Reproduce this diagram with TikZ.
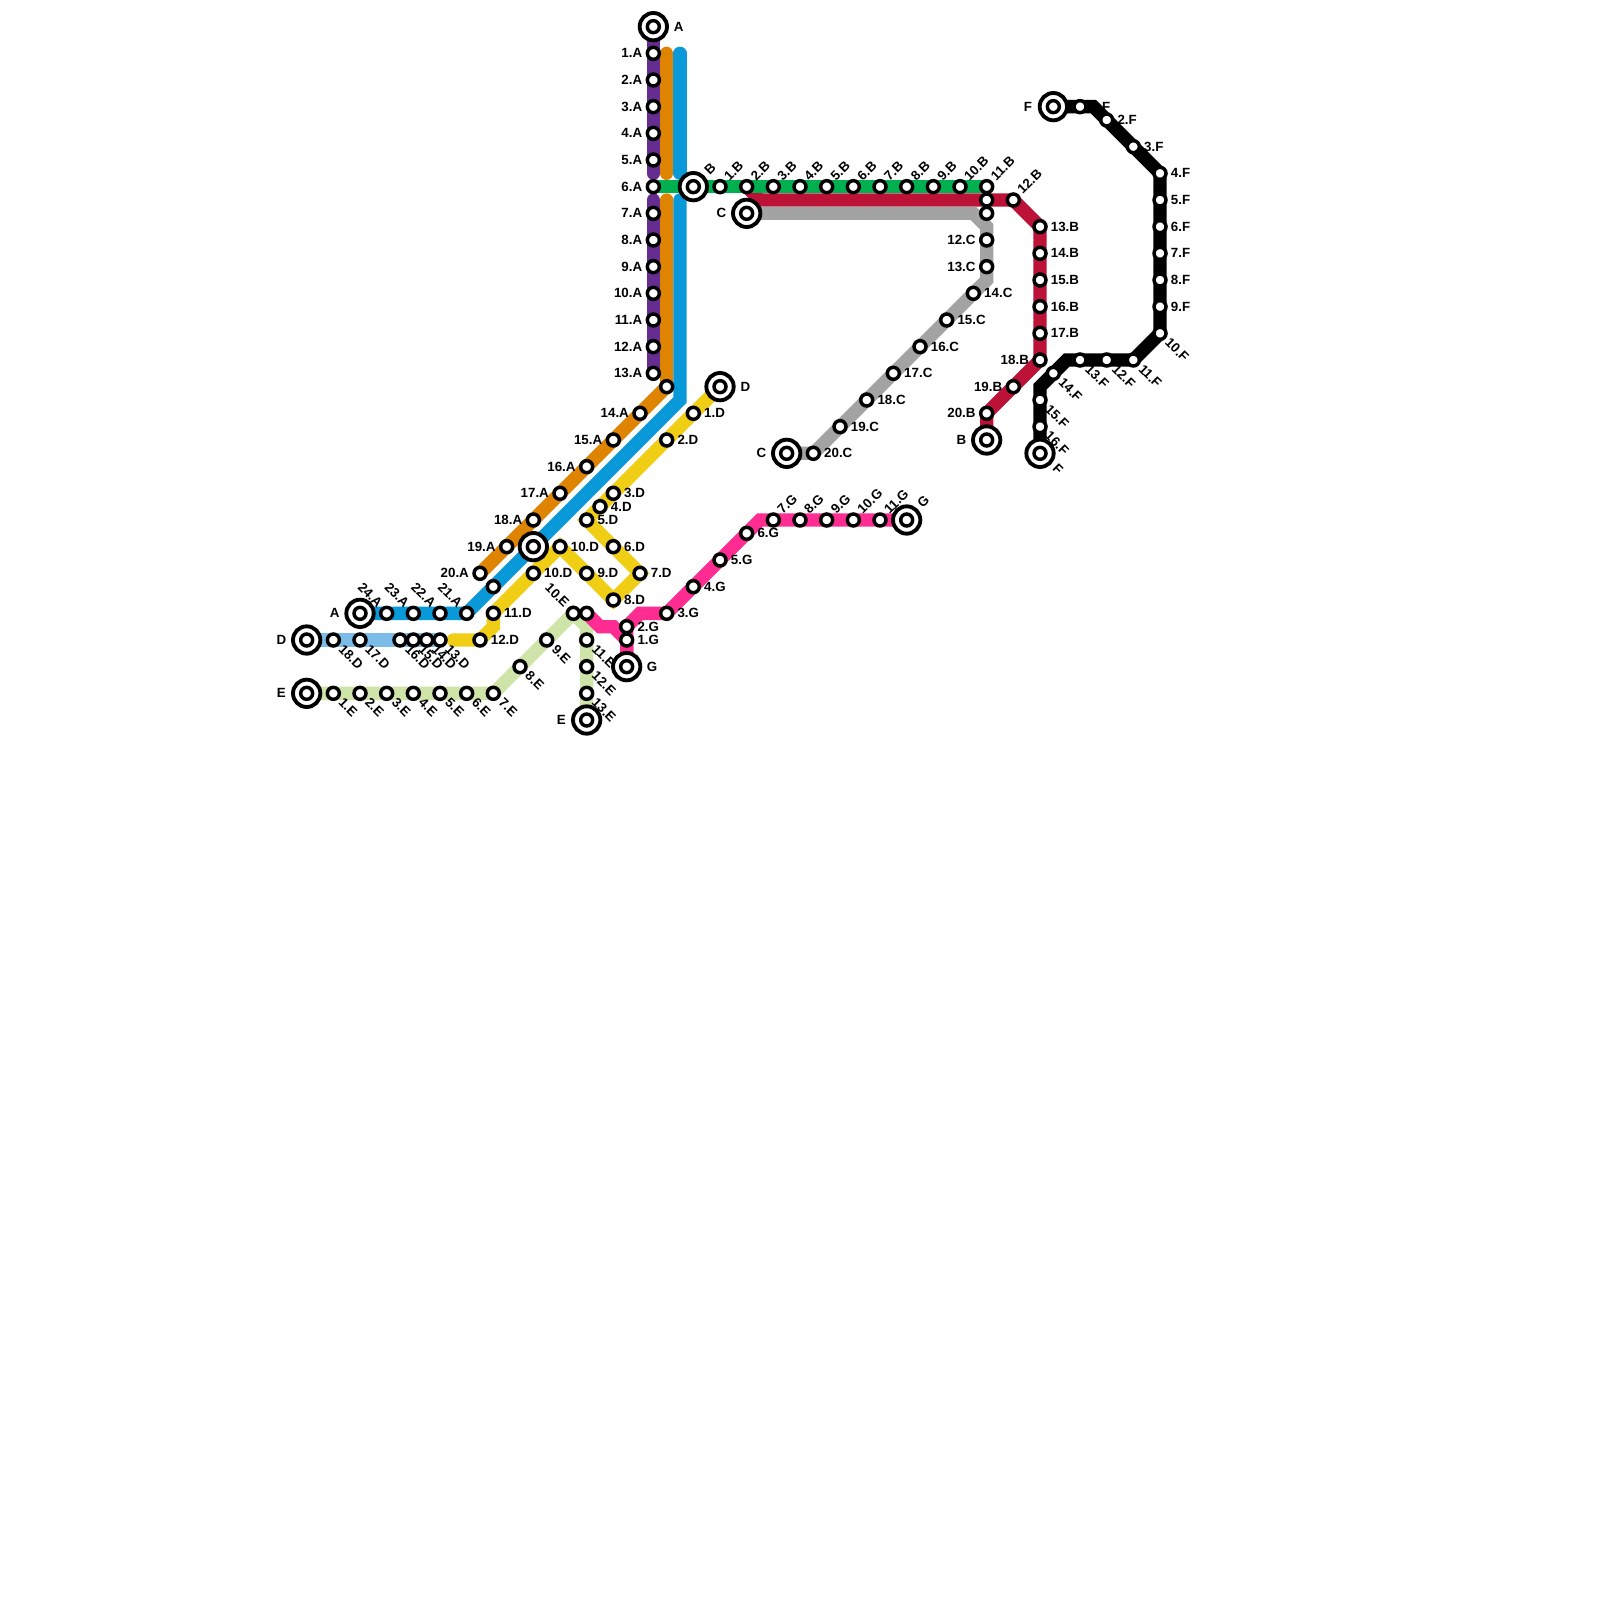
\documentclass[tikz,border=0pt]{standalone}
\usepackage{fontspec}
\setmainfont{Liberation Sans}
\pgfdeclarelayer{lines}
\pgfdeclarelayer{labels}
\pgfsetlayers{lines,labels,main}
\definecolor{cpurple}{HTML}{662D91}
\definecolor{corange}{HTML}{DE8400}
\definecolor{cblue}{HTML}{0A99D8}
\definecolor{cgreen}{HTML}{00B050}
\definecolor{ccrimson}{HTML}{BC1238}
\definecolor{cgray}{HTML}{A3A3A3}
\definecolor{cyellow}{HTML}{F0CE15}
\definecolor{clblue}{HTML}{7BBBE8}
\definecolor{clgreen}{HTML}{CFE4A9}
\definecolor{cpink}{HTML}{FF2D92}
\tikzset{
  station/.style={circle,draw=black,fill=white,line width=0.052cm,minimum size=0.18cm,inner sep=0pt},
  terminal/.style={circle,draw=black,fill=white,line width=0.058cm,minimum size=0.41cm,inner sep=0pt},
  txt/.style={font=\bfseries\fontsize{5.69pt}{6pt}\selectfont,inner sep=0pt,text=black},
  labL/.style={txt,anchor=east,shift={(-0.8,0)}},
  labR/.style={txt,anchor=west,shift={(0.78,0)}},
  labUR/.style={txt,anchor=west,shift={(0.45,-0.6)},rotate=45},
  labDR/.style={txt,anchor=west,shift={(0.55,0.5)},rotate=-45},
  labUL/.style={txt,anchor=east,shift={(-0.45,-0.6)},rotate=-45},
  tlabL/.style={txt,shift={(-1.9,0)}},
  tlabR/.style={txt,shift={(1.9,0)}},
  tlabUR/.style={txt,shift={(1.25,-1.35)},rotate=45},
  tlabDR/.style={txt,shift={(1.35,1.15)},rotate=-45},
  metro/.style={line width=0.2cm,line cap=round,line join=miter},
}
\newcommand\st[5]{%
  \node[station] (#1) at (#2,#3) {};
  \begin{pgfonlayer}{labels}\node[lab#4] (#1l) at (#2,#3) {#5};\end{pgfonlayer}}
\newcommand\bare[3]{\node[station] (#1) at (#2,#3) {};}
\newcommand\term[5]{%
  \node[terminal] (#1) at (#2,#3) {};
  \node[station] (#1i) at (#2,#3) {};
  \begin{pgfonlayer}{labels}\node[tlab#4] (#1l) at (#2,#3) {#5};\end{pgfonlayer}}
\newcommand\termbare[3]{%
  \node[terminal] (#1) at (#2,#3) {};
  \node[station] (#1i) at (#2,#3) {};}
\begin{document}
\begin{tikzpicture}[x=0.2cm,y=-0.2cm]
\begin{pgfonlayer}{lines}
\fill[white] (0,0) rectangle (120,120);
\end{pgfonlayer}
\useasboundingbox (0,0) rectangle (120,120);
% terminals
\term{TA}{49}{2}{R}{A}
\term{TAb}{27}{46}{L}{A}
\term{TB}{52}{14}{UR}{B}
\term{TBb}{74}{33}{L}{B}
\term{TC}{56}{16}{L}{C}
\term{TCb}{59}{34}{L}{C}
\term{TD}{54}{29}{R}{D}
\term{TDb}{23}{48}{L}{D}
\term{TE}{23}{52}{L}{E}
\term{TEb}{44}{54}{L}{E}
\term{TF}{79}{8}{L}{F}
\term{TFb}{78}{34}{DR}{F}
\term{TG}{47}{50}{R}{G}
\term{TGb}{68}{39}{UR}{G}
\termbare{TX}{40}{41}
% line A
\st{A1}{49}{4}{L}{1.A}
\st{A2}{49}{6}{L}{2.A}
\st{A3}{49}{8}{L}{3.A}
\st{A4}{49}{10}{L}{4.A}
\st{A5}{49}{12}{L}{5.A}
\st{A6}{49}{14}{L}{6.A}
\st{A7}{49}{16}{L}{7.A}
\st{A8}{49}{18}{L}{8.A}
\st{A9}{49}{20}{L}{9.A}
\st{A10}{49}{22}{L}{10.A}
\st{A11}{49}{24}{L}{11.A}
\st{A12}{49}{26}{L}{12.A}
\st{A13}{49}{28}{L}{13.A}
\bare{Ax}{50}{29}
\st{A14}{48}{31}{L}{14.A}
\st{A15}{46}{33}{L}{15.A}
\st{A16}{44}{35}{L}{16.A}
\st{A17}{42}{37}{L}{17.A}
\st{A18}{40}{39}{L}{18.A}
\st{A19}{38}{41}{L}{19.A}
\st{A20}{36}{43}{L}{20.A}
\bare{Ay}{37}{44}
\st{A21}{35}{46}{UL}{21.A}
\st{A22}{33}{46}{UL}{22.A}
\st{A23}{31}{46}{UL}{23.A}
\st{A24}{29}{46}{UL}{24.A}
% line B
\st{B1}{54}{14}{UR}{1.B}
\st{B2}{56}{14}{UR}{2.B}
\st{B3}{58}{14}{UR}{3.B}
\st{B4}{60}{14}{UR}{4.B}
\st{B5}{62}{14}{UR}{5.B}
\st{B6}{64}{14}{UR}{6.B}
\st{B7}{66}{14}{UR}{7.B}
\st{B8}{68}{14}{UR}{8.B}
\st{B9}{70}{14}{UR}{9.B}
\st{B10}{72}{14}{UR}{10.B}
\st{B11}{74}{14}{UR}{11.B}
\bare{Bx}{74}{15}
\st{B12}{76}{15}{UR}{12.B}
\st{B13}{78}{17}{R}{13.B}
\st{B14}{78}{19}{R}{14.B}
\st{B15}{78}{21}{R}{15.B}
\st{B16}{78}{23}{R}{16.B}
\st{B17}{78}{25}{R}{17.B}
\st{B18}{78}{27}{L}{18.B}
\st{B19}{76}{29}{L}{19.B}
\st{B20}{74}{31}{L}{20.B}
% line C
\bare{Cx}{74}{16}
\st{C12}{74}{18}{L}{12.C}
\st{C13}{74}{20}{L}{13.C}
\st{C14}{73}{22}{R}{14.C}
\st{C15}{71}{24}{R}{15.C}
\st{C16}{69}{26}{R}{16.C}
\st{C17}{67}{28}{R}{17.C}
\st{C18}{65}{30}{R}{18.C}
\st{C19}{63}{32}{R}{19.C}
\st{C20}{61}{34}{R}{20.C}
% line D
\st{D1}{52}{31}{R}{1.D}
\st{D2}{50}{33}{R}{2.D}
\st{D3}{46}{37}{R}{3.D}
\st{D4}{45}{38}{R}{4.D}
\st{D5}{44}{39}{R}{5.D}
\st{D6}{46}{41}{R}{6.D}
\st{D7}{48}{43}{R}{7.D}
\st{D8}{46}{45}{R}{8.D}
\st{D9}{44}{43}{R}{9.D}
\st{D10}{42}{41}{R}{10.D}
\st{D10b}{40}{43}{R}{10.D}
\st{D11}{37}{46}{R}{11.D}
\st{D12}{36}{48}{R}{12.D}
\st{D13}{33}{48}{DR}{13.D}
\st{D14}{32}{48}{DR}{14.D}
\st{D15}{31}{48}{DR}{15.D}
\st{D16}{30}{48}{DR}{16.D}
\st{D17}{27}{48}{DR}{17.D}
\st{D18}{25}{48}{DR}{18.D}
% line E
\st{E1}{25}{52}{DR}{1.E}
\st{E2}{27}{52}{DR}{2.E}
\st{E3}{29}{52}{DR}{3.E}
\st{E4}{31}{52}{DR}{4.E}
\st{E5}{33}{52}{DR}{5.E}
\st{E6}{35}{52}{DR}{6.E}
\st{E7}{37}{52}{DR}{7.E}
\st{E8}{39}{50}{DR}{8.E}
\st{E9}{41}{48}{DR}{9.E}
\st{E10}{43}{46}{UL}{10.E}
\st{E11}{44}{48}{DR}{11.E}
\st{E12}{44}{50}{DR}{12.E}
\st{E13}{44}{52}{DR}{13.E}
% line F
\st{F1}{81}{8}{R}{1.F}
\st{F2}{83}{9}{R}{2.F}
\st{F3}{85}{11}{R}{3.F}
\st{F4}{87}{13}{R}{4.F}
\st{F5}{87}{15}{R}{5.F}
\st{F6}{87}{17}{R}{6.F}
\st{F7}{87}{19}{R}{7.F}
\st{F8}{87}{21}{R}{8.F}
\st{F9}{87}{23}{R}{9.F}
\st{F10}{87}{25}{DR}{10.F}
\st{F11}{85}{27}{DR}{11.F}
\st{F12}{83}{27}{DR}{12.F}
\st{F13}{81}{27}{DR}{13.F}
\st{F14}{79}{28}{DR}{14.F}
\st{F15}{78}{30}{DR}{15.F}
\st{F16}{78}{32}{DR}{16.F}
% line G
\bare{Gx}{44}{46}
\st{G1}{47}{48}{R}{1.G}
\st{G2}{47}{47}{R}{2.G}
\st{G3}{50}{46}{R}{3.G}
\st{G4}{52}{44}{R}{4.G}
\st{G5}{54}{42}{R}{5.G}
\st{G6}{56}{40}{R}{6.G}
\st{G7}{58}{39}{UR}{7.G}
\st{G8}{60}{39}{UR}{8.G}
\st{G9}{62}{39}{UR}{9.G}
\st{G10}{64}{39}{UR}{10.G}
\st{G11}{66}{39}{UR}{11.G}
% bends and segment ends
\coordinate (pa) at (49,13);
\coordinate (pb) at (49,15);
\coordinate (oa) at (50,4);
\coordinate (ob) at (50,13);
\coordinate (oc) at (50,15);
\coordinate (ba) at (51,4);
\coordinate (bb) at (51,13);
\coordinate (bc) at (51,15);
\coordinate (bd) at (51,30);
\coordinate (cra) at (57,15);
\coordinate (gya) at (73,16);
\coordinate (gyb) at (74,17);
\coordinate (gyc) at (74,21);
\coordinate (ya) at (34,48);
\coordinate (yb) at (37,47);
\coordinate (ea) at (44,47);
\coordinate (ga) at (45,47);
\coordinate (gb) at (46,47);
\coordinate (gc) at (48,46);
\coordinate (gd) at (57,39);
\coordinate (fa) at (82,8);
\coordinate (fb) at (80,27);
\coordinate (fc) at (78,29);
\begin{pgfonlayer}{lines}
\draw[metro,cpurple] (TA.center) -- (pa);
\draw[metro,cpurple] (pb) -- (A13.center);
\draw[metro,corange] (oa) -- (ob);
\draw[metro,corange] (oc) -- (Ax.center) -- (A20.center);
\draw[metro,cblue] (ba) -- (bb);
\draw[metro,cblue] (bc) -- (bd) -- (A21.center) -- (TAb.center);
\draw[metro,ccrimson] (B2.center) -- (cra) -- (B12.center) -- (B13.center) -- (B18.center) -- (B20.center) -- (TBb.center);
\draw[metro,cgray] (TC.center) -- (gya) -- (gyb) -- (gyc) -- (C20.center) -- (TCb.center);
\draw[metro,cyellow] (TD.center) -- (D5.center) -- (D7.center) -- (D8.center) -- (D10.center) -- (D11.center) -- (yb) -- (D12.center) -- (ya);
\draw[metro,clblue] (TDb.center) -- (D13.center);
\draw[metro,clgreen] (TE.center) -- (E7.center) -- (E10.center) -- (ea) -- (TEb.center);
\draw[metro,cpink] (Gx.center) -- (ga) -- (gb) -- (G1.center) -- (TG.center);
\draw[metro,cpink] (TG.center) -- (G2.center) -- (gc) -- (G3.center) -- (gd) -- (TGb.center);
\draw[metro,black] (TF.center) -- (fa) -- (F4.center) -- (F10.center) -- (F11.center) -- (fb) -- (fc) -- (TFb.center);
\draw[metro,cgreen] (A6.center) -- (B11.center);
\end{pgfonlayer}
\end{tikzpicture}
\end{document}
